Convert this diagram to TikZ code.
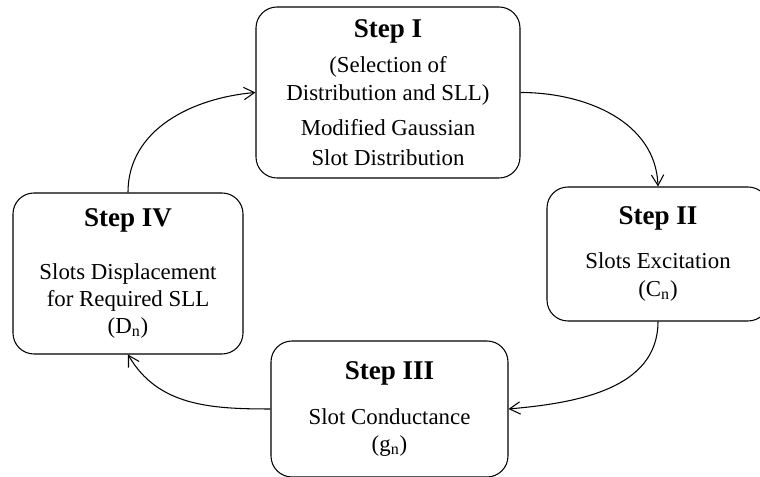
\documentclass[tikz,border=0pt]{standalone}
\usepackage{fontspec}
\setmainfont{Liberation Serif}
\usepackage{tikz}
\usetikzlibrary{arrows.meta}
\newcommand{\stephead}[1]{{\fontsize{15.4}{18}\selectfont\bfseries #1}}

\begin{document}
\begin{tikzpicture}[every node/.style={font=\fontsize{13}{15.5}\selectfont},
  stepbox/.style={draw, line width=0.6pt, rounded corners=0.42cm, align=center, inner sep=0pt},
  flow/.style={line width=0.6pt, -{Straight Barb[length=6pt,width=7pt]}}]
\useasboundingbox (0,0) rectangle (15.2,9.54);
% the four steps of the loop
\node[stepbox, minimum width=5.28cm, minimum height=3.42cm] (s1) at (7.76,7.69)
  {\stephead{Step I}\\[4.5pt] (Selection of\\ Distribution and SLL)\\[4.5pt] Modified Gaussian\\[1.5pt] Slot Distribution};
\node[stepbox, minimum width=4.44cm, minimum height=2.68cm] (s2) at (13.16,4.46)
  {\stephead{Step II}\\[9.5pt] Slots Excitation\\ (C\textsubscript{n})};
\node[stepbox, minimum width=4.74cm, minimum height=2.72cm] (s3) at (7.79,1.36)
  {\stephead{Step III}\\[10pt] Slot Conductance\\ (g\textsubscript{n})};
\node[stepbox, minimum width=4.6cm, minimum height=3.22cm] (s4) at (2.56,4.07)
  {\stephead{Step IV}\\[14.5pt] Slots Displacement\\ for Required SLL\\ (D\textsubscript{n})};
% arrows round the loop
\draw[flow] (s4.north) to[out=90,in=185] (s1.west);
\draw[flow] (s1.east) to[out=0,in=92] (s2.north);
\draw[flow] (s2.south) to[out=-90,in=5] (s3.east);
\draw[flow] (s3.west) to[out=180,in=-60] (s4.south);
\end{tikzpicture}
\end{document}
